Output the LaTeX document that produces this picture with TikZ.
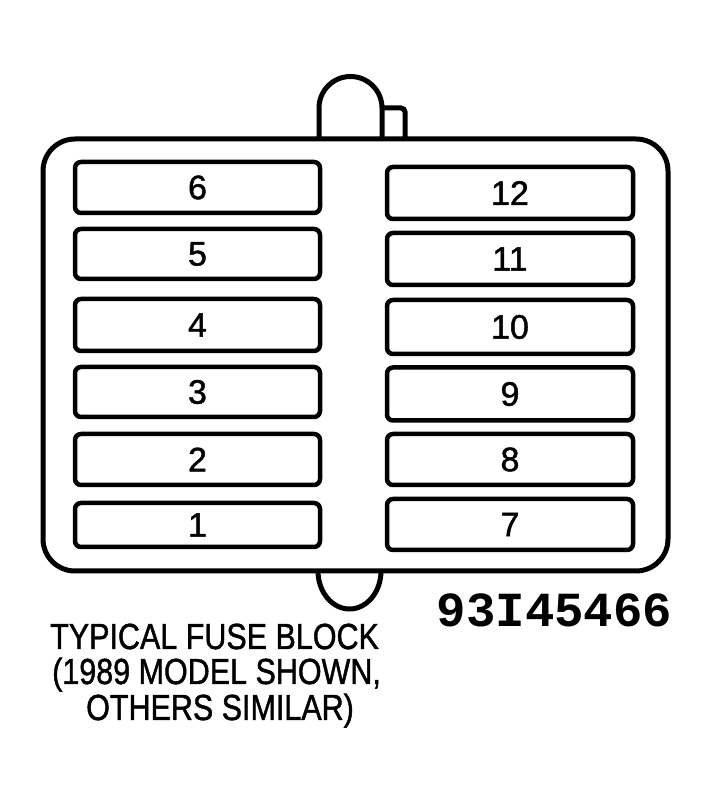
\documentclass[tikz,border=0pt]{standalone}
\usepackage{fontspec}
\usepackage{graphicx}
\setmainfont{Liberation Sans}
\newfontfamily\heavyfont[FakeBold=1.3]{Liberation Sans}
\newfontfamily\codefont{Liberation Mono}
\begin{document}
\begin{tikzpicture}[x=1pt,y=1pt,
  fusebox/.style={draw, line width=4.5pt, rounded corners=6pt, inner sep=0pt,
    font=\heavyfont\fontsize{34}{34}\selectfont},
  lfuse/.style={fusebox, minimum width=245pt},
  rfuse/.style={fusebox, minimum width=246pt},
  outline/.style={line width=5pt},
  captext/.style={anchor=base west, inner sep=0pt, font=\heavyfont\fontsize{36.3}{36.3}\selectfont},
]
\useasboundingbox (0,0) rectangle (709,796);
\fill[white] (0,0) rectangle (709,796);
% body of the fuse block
\draw[outline, rounded corners=32pt] (43,225) rectangle (668,657);
% top connector and tab
\draw[outline] (319,657) -- (319,688) arc[start angle=180, end angle=0, radius=31.5] -- (382,657);
\draw[outline, rounded corners=4pt] (382,688) -- (405,688) -- (405,657);
% bottom connector
\draw[outline] (318,225) arc[start angle=180, end angle=360, x radius=31.5, y radius=38];
% left fuses
\node[lfuse, minimum height=51pt] (f6) at (197.5,608.5) {6};
\node[lfuse, minimum height=50pt] (f5) at (197.5,542) {5};
\node[lfuse, minimum height=52pt] (f4) at (197.5,471) {4};
\node[lfuse, minimum height=50pt] (f3) at (197.5,404) {3};
\node[lfuse, minimum height=51pt] (f2) at (197.5,336.5) {2};
\node[lfuse, minimum height=44pt] (f1) at (197.5,271) {1};
% right fuses
\node[rfuse, minimum height=52pt] (f12) at (510,603) {12};
\node[rfuse, minimum height=52pt] (f11) at (510,537) {11};
\node[rfuse, minimum height=54pt] (f10) at (510,469) {10};
\node[rfuse, minimum height=53pt] (f9) at (510,402) {9};
\node[rfuse, minimum height=51pt] (f8) at (510,336.5) {8};
\node[rfuse, minimum height=51pt] (f7) at (510,271.5) {7};
% code number
\node[anchor=base, inner sep=0pt, font=\codefont\bfseries\fontsize{49}{49}\selectfont] (code) at (554.5,169) {93I45466};
% caption
\node[captext] (cap1) at (50,147) {\scalebox{0.84}[1]{TYPICAL FUSE BLOCK}};
\node[captext] (cap2) at (52,112) {\scalebox{0.84}[1]{(1989 MODEL SHOWN,}};
\node[captext] (cap3) at (86,76) {\scalebox{0.84}[1]{OTHERS SIMILAR)}};
\end{tikzpicture}
\end{document}
